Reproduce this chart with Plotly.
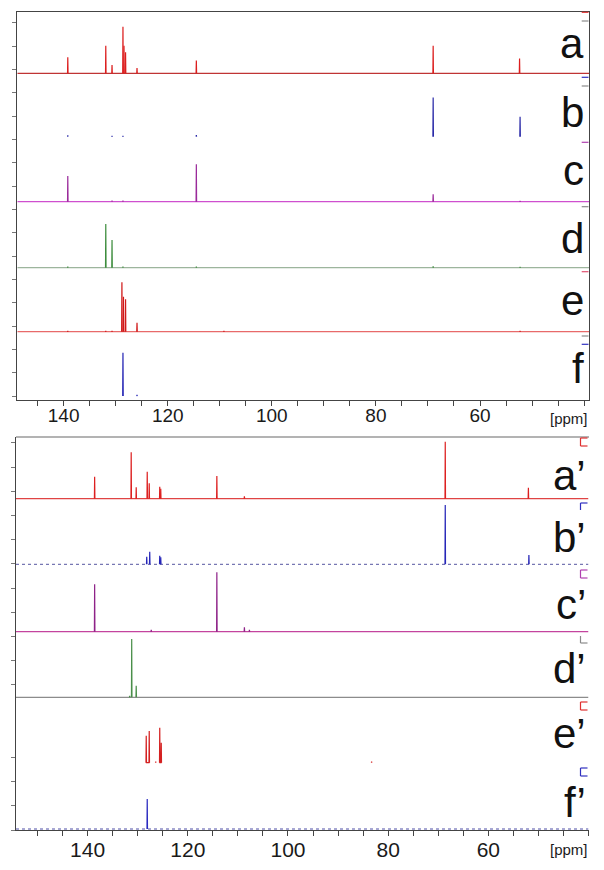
import plotly.graph_objects as go

W, H = 604, 870        # reference picture size
OFF = 8                # page body margin of the browser
FW, FH = W - OFF, H - OFF

# ---------------- DATA (chemical shift in ppm, relative intensity) ----------------
top_labels = ["a", "b", "c", "d", "e", "f"]
a_ppm = [139.2, 131.9, 130.7, 128.6, 128.4, 128.1, 125.9, 114.5, 69.0, 52.4]
a_int = [16.0, 27.6, 8.3, 46.6, 27.6, 21.0, 5.3, 12.7, 27.6, 14.7]
b_ppm = [139.2, 130.7, 128.6, 114.5, 69.0, 52.3]
b_int = [1.2, 0.8, 0.8, 1.5, 39.3, 20.0]
c_ppm = [139.2, 130.7, 128.6, 114.5, 69.0, 52.3]
c_int = [25.7, 1.0, 1.0, 37.4, 7.4, 0.8]
d_ppm = [139.2, 131.9, 130.7, 128.6, 114.5, 69.0, 52.3]
d_int = [1.0, 43.7, 27.7, 1.0, 1.0, 1.2, 0.8]
e_ppm = [139.2, 131.9, 130.7, 128.8, 128.5, 128.1, 125.9, 109.2, 52.3]
e_int = [0.8, 0.8, 0.8, 49.4, 35.0, 32.4, 9.0, 0.8, 0.8]
f_ppm = [128.6, 125.9]
f_int = [43.3, 1.0]

bottom_labels = ["a\u2019", "b\u2019", "c\u2019", "d\u2019", "e\u2019", "f\u2019"]
ap_ppm = [138.6, 131.3, 130.3, 128.1, 127.7, 125.6, 125.4, 114.2, 108.7, 68.6, 52.0]
ap_int = [22.0, 46.4, 11.4, 27.0, 15.4, 12.0, 10.0, 22.7, 2.3, 57.0, 11.0]
bp_ppm = [128.2, 127.6, 125.6, 125.4, 68.6, 51.9]
bp_int = [7.6, 12.6, 8.6, 7.0, 59.3, 9.3]
cp_ppm = [138.6, 127.3, 114.2, 108.7, 107.7]
cp_int = [47.4, 2.0, 59.4, 4.4, 2.0]
dp_ppm = [131.6, 131.2, 130.3]
dp_int = [1.5, 58.3, 11.6]
ep_ppm = [128.3, 127.7, 126.4, 125.6, 125.3, 83.3]
ep_int = [27.0, 31.7, 1.0, 35.0, 20.0, 1.0]
fp_ppm = [128.1]
fp_int = [30.0]

x_tick_vals = [140, 120, 100, 80, 60]
x_tick_text = ["140", "120", "100", "80", "60"]
unit_label = "[ppm]"

# ---------------- LAYOUT HELPERS ----------------
def px(x):
    return (x - OFF) / FW

def py(y):
    return 1 - (y - OFF) / FH

TOP_RANGE = [148.9, 39.0]
BOT_RANGE = [154.3, 40.0]
TOP_Y = (12, 400)     # pixel top / bottom of the upper panel
BOT_Y = (437, 830)
TOP_X = (17.3, 589.3)
BOT_X = (16.0, 588.5)

def sticks(ppm, inten, base, connect=None, hw=0.05):
    pairs = sorted(zip(ppm, inten), reverse=True)
    xs, ys = [], []
    prev = None
    for p, h in pairs:
        if prev is not None and not (connect is not None and prev - p <= connect):
            xs.append(None); ys.append(None)
        xs += [p + hw, p, p - hw]
        ys += [base, base + h, base]
        prev = p
    return xs, ys

fig = go.Figure()

top_specs = [
    (a_ppm, a_int, "#dc1e1e", "#c03434", "solid"),
    (b_ppm, b_int, "#2a2aa8", None, None),
    (c_ppm, c_int, "#9a2a9a", "#cf4fcf", "solid"),
    (d_ppm, d_int, "#3d8d3d", "#9db59d", "solid"),
    (e_ppm, e_int, "#d01818", "#e86a6a", "solid"),
    (f_ppm, f_int, "#2424b4", None, None),
]
bot_specs = [
    (ap_ppm, ap_int, "#dd2020", "#e04444", "solid", None),
    (bp_ppm, bp_int, "#2626b8", "#5656a0", "dot", None),
    (cp_ppm, cp_int, "#8e2288", "#c4449e", "solid", None),
    (dp_ppm, dp_int, "#4a8f4a", "#8c8c8c", "solid", None),
    (ep_ppm, ep_int, "#d42020", None, None, 0.7),
    (fp_ppm, fp_int, "#2a2ac0", "#5050a8", "dot", None),
]

top_bases = [326.7, 263.3, 198.3, 132.3, 68.3, 4.0]
bot_bases = [331.3, 265.7, 198.3, 132.7, 67.3, 1.0]

for (pp, ii, pc, bc, bd), base in zip(top_specs, top_bases):
    if bc:
        fig.add_trace(go.Scatter(x=[TOP_RANGE[0], TOP_RANGE[1]], y=[base, base], mode="lines",
                                 line=dict(color=bc, width=1.2, dash=bd), xaxis="x", yaxis="y",
                                 hoverinfo="skip"))
    xs, ys = sticks(pp, ii, base)
    fig.add_trace(go.Scatter(x=xs, y=ys, mode="lines", line=dict(color=pc, width=1.2),
                             xaxis="x", yaxis="y"))

for (pp, ii, pc, bc, bd, con), base in zip(bot_specs, bot_bases):
    if bc:
        fig.add_trace(go.Scatter(x=[BOT_RANGE[0], BOT_RANGE[1]], y=[base, base], mode="lines",
                                 line=dict(color=bc, width=1.0 if bd == "dot" else 1.2, dash=bd),
                                 xaxis="x2", yaxis="y2", hoverinfo="skip"))
    xs, ys = sticks(pp, ii, base, connect=con)
    fig.add_trace(go.Scatter(x=xs, y=ys, mode="lines", line=dict(color=pc, width=1.2),
                             xaxis="x2", yaxis="y2"))

tickfont_top = dict(family="Liberation Sans, Arial, sans-serif", size=19, color="#1a1a1a")
tickfont_bot = dict(family="Liberation Sans, Arial, sans-serif", size=21, color="#1a1a1a")

def minor():
    return dict(dtick=5, tick0=0, ticks="outside", ticklen=5, tickcolor="#444", showgrid=False)

fig.update_layout(
    width=FW, height=FH, autosize=False, showlegend=False,
    margin=dict(l=0, r=0, t=0, b=0, pad=0),
    paper_bgcolor="white", plot_bgcolor="white",
    xaxis=dict(domain=[px(TOP_X[0]), px(TOP_X[1])], range=TOP_RANGE, anchor="y",
               showline=True, mirror=True, linecolor="#444", linewidth=1.3,
               ticks="outside", ticklen=5, tickcolor="#444",
               tickmode="array", tickvals=x_tick_vals, ticktext=x_tick_text,
               tickfont=tickfont_top, ticklabelstandoff=-7,
               showgrid=False, zeroline=False, minor=minor()),
    yaxis=dict(domain=[py(TOP_Y[1]), py(TOP_Y[0])], range=[0, TOP_Y[1] - TOP_Y[0]], anchor="x",
               showline=True, mirror=True, linecolor="#444", linewidth=1.3,
               ticks="outside", ticklen=4, tickcolor="#777", tick0=4, dtick=23.33,
               showticklabels=False, showgrid=False, zeroline=False),
    xaxis2=dict(domain=[px(BOT_X[0]), px(BOT_X[1])], range=BOT_RANGE, anchor="y2",
                showline=True, mirror=False, linecolor="#444", linewidth=1.3,
                ticks="outside", ticklen=5, tickcolor="#444",
                tickmode="array", tickvals=x_tick_vals, ticktext=x_tick_text,
                tickfont=tickfont_bot, ticklabelstandoff=-4,
                showgrid=False, zeroline=False, minor=minor(),
                layer="below traces"),
    yaxis2=dict(domain=[py(BOT_Y[1]), py(BOT_Y[0])], range=[0, BOT_Y[1] - BOT_Y[0]], anchor="x2",
                showline=True, linecolor="#444", linewidth=1.3,
                ticks="outside", ticklen=4, tickcolor="#777",
                tickmode="array", tickvals=[24.2 * k for k in range(17) if k not in (4, 5)],
                showticklabels=False, showgrid=False, zeroline=False),
)

shapes = []
# upper border of lower panel
shapes.append(dict(type="line", xref="paper", yref="paper", x0=px(BOT_X[0]), x1=px(589),
                   y0=py(BOT_Y[0]), y1=py(BOT_Y[0]), line=dict(color="#9a9a9a", width=1.3)))
# intensity-scale marks on the right of the upper panel
for y, c in [(12.3, "#e03030"), (21, "#8a8a8a"), (77.3, "#3030c0"), (86, "#8a8a8a"),
             (142.3, "#b040b0"), (206.7, "#8a8a8a"), (271.7, "#e05070"), (336, "#8a8a8a"),
             (344.3, "#3030c0")]:
    shapes.append(dict(type="line", xref="paper", yref="paper", x0=px(581.7), x1=px(588.5),
                       y0=py(y), y1=py(y), line=dict(color=c, width=1.2)))

def bracket(y0, y1, c, sides):
    x0, x1 = 580.5, 587.5
    segs = {"t": (x1, y0, x0, y0), "l": (x0, y0, x0, y1), "b": (x0, y1, x1, y1)}
    for s in sides:
        a, b, cc, d = segs[s]
        shapes.append(dict(type="line", xref="paper", yref="paper", x0=px(a), y0=py(b),
                           x1=px(cc), y1=py(d), line=dict(color=c, width=1.2)))

bracket(438, 446, "#e03030", "tlb")
bracket(503, 510, "#3030c0", "tl")
bracket(570, 578, "#b040b0", "tlb")
bracket(636, 643, "#8a8a8a", "lb")
bracket(702, 710, "#e03030", "tlb")
bracket(768, 776, "#3030c0", "tlb")

fig.update_layout(shapes=shapes)

ann = []
LF = 42
lab_font = dict(family="Liberation Sans, Arial, sans-serif", size=LF, color="#111")
for lab, bl in zip(top_labels, [58.3, 126.7, 185, 253.3, 315, 383.3]):
    ann.append(dict(text=lab, xref="paper", yref="paper", x=px(586), y=py(bl - 0.3465 * LF),
                    xanchor="right", yanchor="middle", showarrow=False, font=lab_font))
for lab, bl in zip(bottom_labels, [490, 551.7, 619, 683.3, 748.3, 816.7]):
    ann.append(dict(text=lab, xref="paper", yref="paper", x=px(588), y=py(bl - 0.3465 * LF),
                    xanchor="right", yanchor="middle", showarrow=False, font=lab_font))
unit_font = dict(family="Liberation Sans, Arial, sans-serif", size=15, color="#1a1a1a")
ann.append(dict(text=unit_label, xref="paper", yref="paper", x=px(590), y=py(418),
                xanchor="right", yanchor="middle", showarrow=False, font=unit_font))
ann.append(dict(text=unit_label, xref="paper", yref="paper", x=px(590), y=py(849),
                xanchor="right", yanchor="middle", showarrow=False, font=unit_font))
fig.update_layout(annotations=ann)

fig.write_html("out.html")
